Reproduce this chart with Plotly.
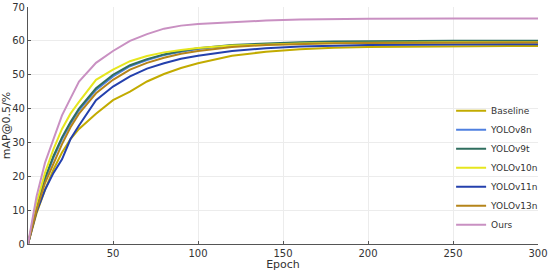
import plotly.graph_objects as go

epochs = [0, 2, 5, 10, 15, 20, 25, 30, 40, 50, 60, 70, 80, 90, 100,
          120, 140, 160, 180, 200, 250, 300]

baseline = [0, 3.5, 9, 16, 22, 27, 31, 34, 38.5, 42.5, 45, 48, 50.2, 52, 53.4,
            55.6, 56.8, 57.5, 58, 58.2, 58.4, 58.5]
yolov8n = [0, 4.5, 11, 19, 25.5, 31, 35.5, 39.5, 45.5, 49.5, 52.5, 54.3, 55.8, 56.8, 57.6,
           58.6, 59.1, 59.4, 59.6, 59.7, 59.8, 59.8]
yolov9t = [0, 4.5, 11, 19.5, 26, 31.5, 36, 40, 46, 50, 52.8, 54.6, 56, 57, 57.8,
           58.8, 59.3, 59.6, 59.8, 59.9, 60, 60]
yolov10n = [0, 5, 12, 21, 28, 34, 38.5, 42, 48.5, 51.5, 54, 55.5, 56.6, 57.3, 57.9,
            58.6, 59, 59.2, 59.4, 59.5, 59.6, 59.6]
yolov11n = [0, 4, 9.5, 16, 21, 25, 31, 35, 42.5, 46.5, 49.5, 51.8, 53.4, 54.7, 55.6,
            57, 57.8, 58.3, 58.6, 58.8, 58.9, 59]
yolov13n = [0, 4, 10, 18, 24, 29.5, 34.5, 38.5, 44.5, 48.5, 51.5, 53.5, 55, 56.2, 57,
            58.2, 58.8, 59.1, 59.3, 59.4, 59.5, 59.5]
ours = [0, 6, 14, 24, 31, 38, 43, 48, 53.5, 57, 60, 62, 63.6, 64.5, 65,
        65.6, 66, 66.3, 66.5, 66.5, 66.6, 66.6]

names = ['Baseline', 'YOLOv8n', 'YOLOv9t', 'YOLOv10n', 'YOLOv11n', 'YOLOv13n', 'Ours']
series = [baseline, yolov8n, yolov9t, yolov10n, yolov11n, yolov13n, ours]
colors = ['#c2ab00', '#4f80e0', '#2f6e5e', '#e6e61e', '#2440ad', '#b5841a', '#c990c2']

fig = go.Figure()
for name, ys, c in zip(names, series, colors):
    fig.add_trace(go.Scatter(x=epochs, y=ys, mode='lines', name=name,
                             line=dict(color=c, width=2)))

axis_font = dict(family='DejaVu Sans', size=10, color='#333333')
fig.update_layout(
    width=550, height=271,
    margin=dict(l=28, r=11, t=7, b=27),
    plot_bgcolor='white', paper_bgcolor='white',
    font=axis_font,
    legend=dict(x=0.828, y=0.02, xanchor='left', yanchor='bottom',
                bgcolor='rgba(0,0,0,0)', font=dict(family='DejaVu Sans', size=9, color='#333333'),
                tracegroupgap=0),
)
fig.update_xaxes(range=[0, 300], tickvals=[50, 100, 150, 200, 250, 300],
                 showgrid=True, gridcolor='#ececec', zeroline=False,
                 showline=True, linecolor='#555555', linewidth=1.2,
                 ticks='inside', ticklen=3, tickcolor='#555555',
                 title=dict(text='Epoch', standoff=2, font=dict(size=11)),
                 automargin=False)
fig.update_yaxes(range=[0, 70], tickvals=[0, 10, 20, 30, 40, 50, 60, 70],
                 showgrid=True, gridcolor='#ececec', zeroline=False,
                 showline=True, linecolor='#555555', linewidth=1.2,
                 ticks='inside', ticklen=3, tickcolor='#555555',
                 title=dict(text='mAP@0.5/%', standoff=2, font=dict(size=11)),
                 automargin=False)

# the page body has a default 8px margin; drop it so the figure sits at 0,0
fig.write_html("out.html", config={'displayModeBar': False},
               post_script="document.body.style.margin='0';")
